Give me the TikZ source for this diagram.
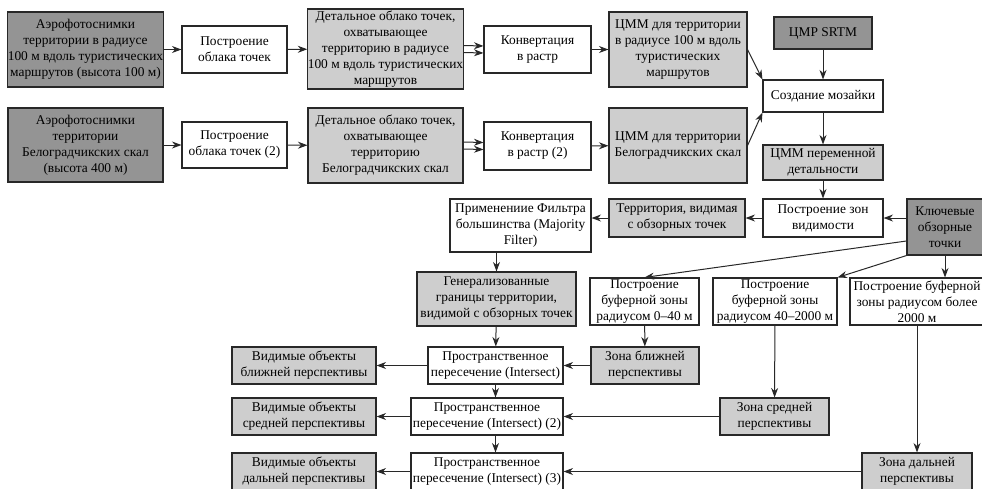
\documentclass[tikz,border=0pt]{standalone}
\usepackage{fontspec}
\setmainfont{Liberation Serif}
\usepackage{tikz}
\usetikzlibrary{arrows.meta,positioning,calc}
\definecolor{boxdark}{RGB}{148,148,148}
\definecolor{boxlight}{RGB}{206,206,206}
\definecolor{edgegray}{RGB}{40,40,40}

\begin{document}
\begin{tikzpicture}[x=1pt,y=-1pt,>={Stealth[length=9.5pt,width=7pt]},
  wb/.style={draw=edgegray,line width=1.1pt,fill=white,align=center,
             inner sep=0pt,font=\fontsize{13.4}{16}\selectfont},
  lb/.style={wb,fill=boxlight},
  db/.style={wb,fill=boxdark},
  sz/.style 2 args={minimum width=#1,minimum height=#2},
  arr/.style={->,line width=1pt,draw=edgegray}]
  \useasboundingbox (0,0) rectangle (982,488);

  \node[db,sz={155}{75}](foto1)  at (85.5,49.5)  {Аэрофотоснимки\\территории в радиусе\\100 м вдоль туристических\\маршрутов (высота 100 м)};
  \node[wb,sz={105}{47}](cloud1) at (234.5,49.5) {Построение\\облака точек};
  \node[lb,sz={155}{80}](dens1)  at (385.5,49)   {Детальное облако точек,\\охватывающее\\территорию в радиусе\\100 м вдоль туристических\\маршрутов};
  \node[wb,sz={107}{47}](conv1)  at (537.5,49.5) {Конвертация\\в растр};
  \node[lb,sz={138}{75}](dem1)   at (678,49.5)   {ЦММ для территории\\в радиусе 100 м вдоль\\туристических\\маршрутов};
  \node[db,sz={98}{32}](srtm)    at (823,33)     {ЦМР SRTM};
  \node[wb,sz={120}{32}](mosaic) at (823,96)     {Создание мозайки};

  \node[db,sz={155}{74}](foto2)  at (85.5,145)   {Аэрофотоснимки\\территории\\Белоградчикских скал\\(высота 400 м)};
  \node[wb,sz={105}{46}](cloud2) at (234.5,145)  {Построение\\облака точек (2)};
  \node[lb,sz={155}{75}](dens2)  at (385.5,145.5){Детальное облако точек,\\охватывающее\\территорию\\Белоградчикских скал};
  \node[wb,sz={107}{48}](conv2)  at (537.5,146)  {Конвертация\\в растр (2)};
  \node[lb,sz={138}{75}](dem2)   at (678,145.5)  {ЦММ для территории\\Белоградчикских скал};
  \node[lb,sz={120}{35}](demvar) at (823,162.5)  {ЦММ переменной\\детальности};

  \node[wb,sz={141}{53}](filter) at (520.5,225.5){Применениие Фильтра\\большинства (Majority\\Filter)};
  \node[lb,sz={136}{38}](terr)   at (677,218)    {Территория, видимая\\с обзорных точек};
  \node[wb,sz={120}{38}](vis)    at (823,218)    {Построение зон\\видимости};
  \node[db,sz={76}{56}](keypt)   at (945,227)    {Ключевые\\обзорные\\точки};

  \node[lb,sz={159}{54}](gen)    at (496.5,299)  {Генерализованные\\границы территории,\\видимой с обзорных точек};
  \node[wb,sz={109}{47}](buf1)   at (644.5,301.5){Построение\\буферной зоны\\радиусом 0–40 м};
  \node[wb,sz={124}{47}](buf2)   at (775,301.5)  {Построение\\буферной зоны\\радиусом 40–2000 м};
  \node[wb,sz={134}{47}](buf3)   at (917,301.5)  {Построение буферной\\зоны радиусом более\\2000 м};

  \node[lb,sz={144}{37}](objnear) at (304,365.5)  {Видимые объекты\\ближней перспективы};
  \node[wb,sz={135}{37}](int1)    at (495.5,365.5){Пространственное\\пересечение (Intersect)};
  \node[lb,sz={108}{37}](znear)   at (645,365.5)  {Зона ближней\\перспективы};
  \node[lb,sz={144}{37}](objmid)  at (304,416.5)  {Видимые объекты\\средней перспективы};
  \node[wb,sz={152}{37}](int2)    at (487,416.5)  {Пространственное\\пересечение (Intersect) (2)};
  \node[lb,sz={109}{37}](zmid)    at (774.5,416.5){Зона средней\\перспективы};
  \node[lb,sz={144}{37}](objfar)  at (304,471.5)  {Видимые объекты\\дальней перспективы};
  \node[wb,sz={152}{37}](int3)    at (487,471.5)  {Пространственное\\пересечение (Intersect) (3)};
  \node[lb,sz={110}{37}](zfar)    at (917,471.5)  {Зона дальней\\перспективы};

  \foreach \i/\j in {foto1/cloud1,cloud1/dens1,conv1/dem1,foto2/cloud2,cloud2/dens2,conv2/dem2,
                     srtm/mosaic,mosaic/demvar,demvar/vis,vis/terr,gen/int1,buf1/znear,
                     buf2/zmid,buf3/zfar,znear/int1,int1/objnear,zmid/int2,int2/objmid,
                     zfar/int3,int3/objfar}{
    \draw[arr](\i)--(\j);}
  \foreach \s in {3.5,-3.5}{
    \draw[arr]([yshift=\s pt]dens1.east)--([yshift=\s pt]conv1.west);
    \draw[arr]([yshift=\s pt]dens2.east)--([yshift=\s pt]conv2.west);}
  \draw[arr](dem1.east)--(mosaic.north west);
  \draw[arr](dem2.east)--(mosaic.south west);
  \draw[arr](keypt.west |- vis.east)--(vis.east);
  \draw[arr](terr.west)--(terr.west -| filter.east);
  \draw[arr](gen.north |- filter.south)--(gen.north);
  \draw[arr]([yshift=-14pt]keypt.west)--(buf1.north);
  \draw[arr](keypt.south west)--(buf2.north east);
  \draw[arr](keypt.south)--(keypt.south |- buf3.north);
  \draw[arr](int1.south)--(int1.south |- int2.north);
  \draw[arr](int1.south |- int2.south)--(int1.south |- int3.north);
\end{tikzpicture}
\end{document}
